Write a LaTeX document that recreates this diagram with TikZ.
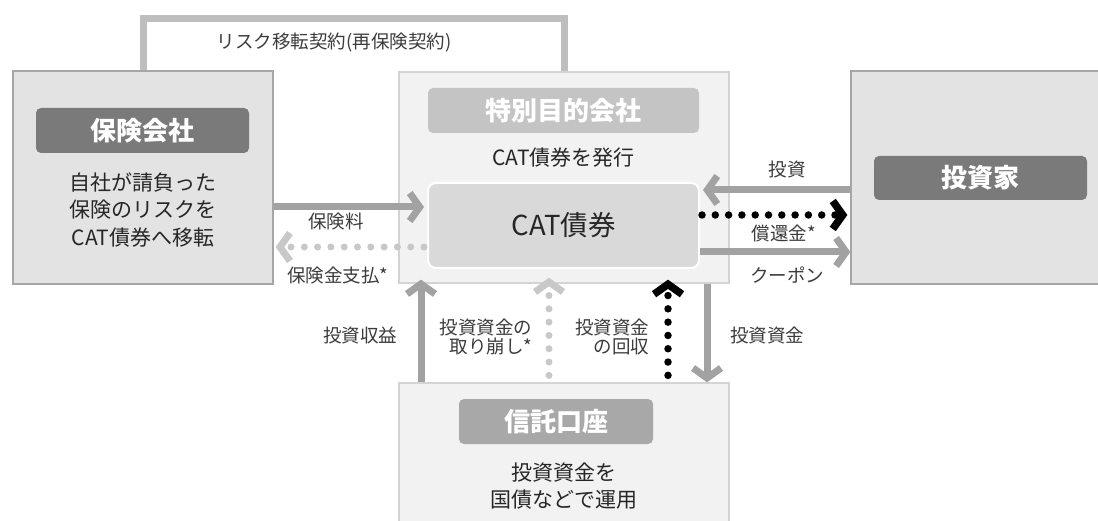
\documentclass[tikz,border=0pt]{standalone}
\usepackage{fontspec}
\setmainfont{Noto Sans CJK JP}
\usetikzlibrary{arrows.meta}
\definecolor{boxdark}{HTML}{E3E3E3}
\definecolor{boxdarkline}{HTML}{A6A6A6}
\definecolor{boxlight}{HTML}{F2F2F2}
\definecolor{boxlightline}{HTML}{D4D4D4}
\definecolor{tagdark}{HTML}{7A7A7A}
\definecolor{tagmid}{HTML}{A8A8A8}
\definecolor{taglight}{HTML}{C4C4C4}
\definecolor{catfill}{HTML}{D9D9D9}
\definecolor{arrowgray}{HTML}{A2A2A2}
\definecolor{linegray}{HTML}{BEBEBE}
\definecolor{dotgray}{HTML}{C8C8C8}
\definecolor{txt}{HTML}{262626}
\begin{document}
\begin{tikzpicture}[x=1pt,y=-1pt,
  outerdark/.style={draw=boxdarkline, line width=1.3pt, fill=boxdark, inner sep=0pt},
  outerlight/.style={draw=boxlightline, line width=1.3pt, fill=boxlight, inner sep=0pt},
  tagbox/.style={rounded corners=5pt, inner sep=0pt, text=white, minimum height=45pt,
    font=\bfseries\fontsize{26}{30}\selectfont},
  bodytext/.style={text=txt, align=center, font=\fontsize{21}{27.5}\selectfont},
  lbl/.style={text=txt!90, font=\fontsize{18.5}{19.5}\selectfont},
  garrow/.style={draw=arrowgray, line width=7pt, -{Straight Barb[length=10pt,width=28pt]}},
  gdots/.style={draw=dotgray, line width=7pt, line cap=round, dash pattern=on 0pt off 13.3pt,
    -{Straight Barb[length=10pt,width=28pt]}},
  kdots/.style={draw=black, line width=7.5pt, line cap=round, dash pattern=on 0pt off 13.3pt,
    -{Straight Barb[length=10pt,width=28pt]}},
]
\clip (0,0) rectangle (1098,521);
\fill[white] (0,0) rectangle (1098,521);

% boxes
\node[outerdark, minimum width=260pt, minimum height=213pt] (ins) at (143,177.5) {};
\node[outerlight, minimum width=330pt, minimum height=211pt] (spv) at (564,177.5) {};
\node[outerdark, minimum width=254pt, minimum height=213pt] (inv) at (978,177.5) {};
\node[outerlight, minimum width=330pt, minimum height=150pt] (trust) at (564,458) {};

% tags
\node[tagbox, fill=tagdark, minimum width=213pt] (insTag) at (142.5,130.5) {保険会社};
\node[tagbox, fill=taglight, minimum width=271pt] (spvTag) at (563.5,110.5) {特別目的会社};
\node[tagbox, fill=tagdark, minimum width=213pt, minimum height=44pt] (invTag) at (980.5,178) {投資家};
\node[tagbox, fill=tagmid, minimum width=194pt] (trustTag) at (556,421.5) {信託口座};

% CAT bond inner box
\node[draw=white, line width=2pt, fill=catfill, rounded corners=8pt, minimum width=271pt,
  minimum height=85pt, text=txt, font=\fontsize{27.5}{30}\selectfont] (cat) at (563.5,225.5) {CAT債券};

% body texts
\node[bodytext] (insText) at (143,210) {自社が請負った\\保険のリスクを\\CAT債券へ移転};
\node[bodytext] (spvText) at (563.5,158) {CAT債券を発行};
\node[bodytext] (trustText) at (564,486) {投資資金を\\国債などで運用};

% top contract line
\draw[draw=linegray, line width=7pt] (ins.north) -- (ins.north |- 0,18.5) -| (spv.north);
\node[lbl] (contract) at (334,43) {リスク移転契約(再保険契約)};

% premium and payout
\draw[garrow] (ins.east |- 0,207) -- ([xshift=-3pt]cat.west |- 0,207);
\node[lbl] (premium) at (336,222) {保険料};
\draw[gdots] ([xshift=-3pt]cat.west |- 0,247) -- ([xshift=2pt]ins.east |- 0,247);
\node[lbl] (payout) at (338,276) {保険金支払*};

% investor side
\draw[garrow] (inv.west |- 0,190) -- ([xshift=3pt]cat.east |- 0,190);
\node[lbl] (invest) at (787,170) {投資};
\draw[kdots] ([xshift=2pt]cat.east |- 0,215) -- ([xshift=-3pt]inv.west |- 0,215);
\node[lbl] (redeem) at (784,233) {償還金*};
\draw[garrow] (cat.east |- 0,252) -- (inv.west |- 0,252);
\node[lbl] (coupon) at (787,275) {クーポン};

% trust side
\draw[garrow] (trust.north -| 421,0) -- ([yshift=4pt]spv.south -| 421,0);
\node[lbl] (income) at (360,335) {投資収益};
\draw[gdots, shorten <=7pt] (trust.north -| 549,0) -- ([yshift=6pt]spv.south -| 549,0);
\node[lbl, align=right, anchor=east] (withdraw) at (536,337) {投資資金の\\取り崩し*};
\draw[kdots, shorten <=7pt] (trust.north -| 668,0) -- ([yshift=4pt]spv.south -| 668,0);
\node[lbl, align=right, anchor=east] (recover) at (653,337) {投資資金\\の回収};
\draw[garrow] (spv.south -| 707,0) -- (trust.north -| 707,0);
\node[lbl] (fund) at (767,335) {投資資金};
\end{tikzpicture}
\end{document}
